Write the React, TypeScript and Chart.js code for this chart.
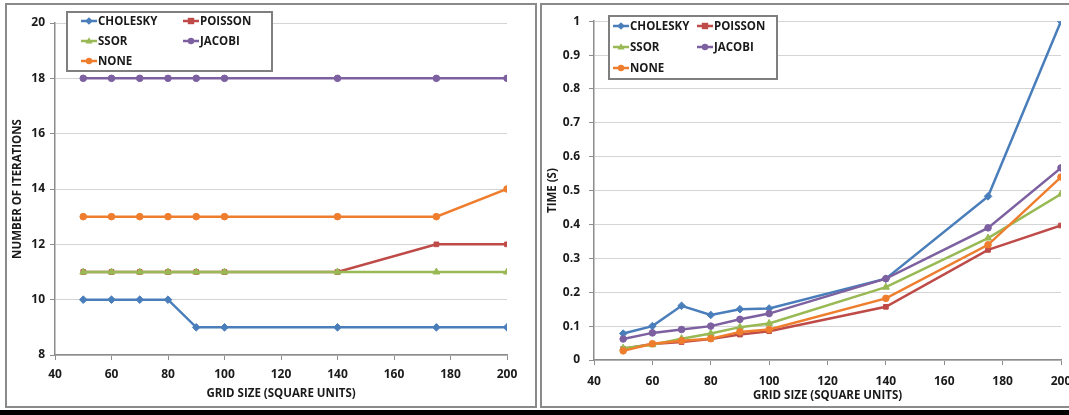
import { useEffect, useRef } from "react";
import { Chart, registerables } from "chart.js";
Chart.register(...registerables);

const gridSizes = [50, 60, 70, 80, 90, 100, 140, 175, 200];
const seriesNames = ["CHOLESKY", "POISSON", "SSOR", "JACOBI", "NONE"];
const seriesColors = ["#4A7EBB", "#BE4B48", "#98B954", "#7D60A0", "#EE7E2E"];
const seriesMarkers = ["rectRot", "rect", "triangle", "circle", "circle"];

const iterCholesky = [10, 10, 10, 10, 9, 9, 9, 9, 9];
const iterPoisson = [11, 11, 11, 11, 11, 11, 11, 12, 12];
const iterSsor = [11, 11, 11, 11, 11, 11, 11, 11, 11];
const iterJacobi = [18, 18, 18, 18, 18, 18, 18, 18, 18];
const iterNone = [13, 13, 13, 13, 13, 13, 13, 13, 14];

const timeCholesky = [0.078, 0.1, 0.16, 0.133, 0.15, 0.152, 0.24, 0.483, 1.0];
const timePoisson = [0.033, 0.047, 0.053, 0.062, 0.075, 0.085, 0.157, 0.325, 0.397];
const timeSsor = [0.035, 0.045, 0.063, 0.078, 0.097, 0.108, 0.215, 0.36, 0.49];
const timeJacobi = [0.062, 0.08, 0.09, 0.1, 0.12, 0.137, 0.24, 0.39, 0.567];
const timeNone = [0.027, 0.048, 0.057, 0.063, 0.083, 0.09, 0.182, 0.34, 0.54];

const FONT = "'Open Sans', Lato, sans-serif";
const TEXT = "#1a1a1a";

function drawMarker(ctx: CanvasRenderingContext2D, style: string, x: number, y: number, r: number) {
  ctx.beginPath();
  if (style === "circle") {
    ctx.arc(x, y, r, 0, Math.PI * 2);
  } else if (style === "rect") {
    ctx.rect(x - r, y - r, r * 2, r * 2);
  } else if (style === "rectRot") {
    ctx.moveTo(x, y - r * 1.2);
    ctx.lineTo(x + r * 1.2, y);
    ctx.lineTo(x, y + r * 1.2);
    ctx.lineTo(x - r * 1.2, y);
    ctx.closePath();
  } else if (style === "triangle") {
    ctx.moveTo(x, y - r * 1.2);
    ctx.lineTo(x + r * 1.1, y + r * 0.8);
    ctx.lineTo(x - r * 1.1, y + r * 0.8);
    ctx.closePath();
  }
  ctx.fill();
}

const boxLegend = {
  id: "boxLegend",
  afterDraw(chart: any, _args: any, opts: any) {
    const ctx: CanvasRenderingContext2D = chart.ctx;
    ctx.save();
    ctx.fillStyle = "#ffffff";
    ctx.fillRect(opts.x, opts.y, opts.w, opts.h);
    ctx.strokeStyle = "#7f7f7f";
    ctx.lineWidth = 2;
    ctx.strokeRect(opts.x, opts.y, opts.w, opts.h);
    ctx.font = `bold 11.5px ${FONT}`;
    ctx.textBaseline = "middle";
    seriesNames.forEach((name, i) => {
      const col = i % 2;
      const row = Math.floor(i / 2);
      const sx = opts.colX[col];
      const sy = opts.rowY[row];
      ctx.strokeStyle = seriesColors[i];
      ctx.fillStyle = seriesColors[i];
      ctx.lineWidth = 2.5;
      ctx.beginPath();
      ctx.moveTo(sx, sy);
      ctx.lineTo(sx + 16, sy);
      ctx.stroke();
      drawMarker(ctx, seriesMarkers[i], sx + 8, sy, 3.2);
      ctx.fillStyle = TEXT;
      ctx.fillText(name, sx + 17, sy + 0.5);
    });
    ctx.restore();
  },
};

interface PanelProps {
  series: number[][];
  yMin: number;
  yMax: number;
  yStep: number;
  yTitle: string;
  width: number;
  height: number;
  yAxisWidth: number;
  xAxisHeight: number;
  padTop: number;
  padRight: number;
  legend: any;
  yFormat: (v: number) => string;
  yTickPad: number;
  xTickPad: number;
  xTitleBottom: number;
}

function Panel(p: PanelProps) {
  const ref = useRef<HTMLCanvasElement>(null);
  useEffect(() => {
    if (!ref.current) return;
    const datasets = seriesNames.map((name, i) => ({
      label: name,
      data: gridSizes.map((g, j) => ({ x: g, y: p.series[i][j] })),
      borderColor: seriesColors[i],
      backgroundColor: seriesColors[i],
      borderWidth: 2.5,
      pointStyle: seriesMarkers[i] as any,
      pointRadius: seriesMarkers[i] === "triangle" ? 4 : seriesMarkers[i] === "rectRot" ? 3.8 : 3.3,
      pointBorderWidth: 1,
      tension: 0,
      order: seriesNames.length - i,
    }));
    const chart = new Chart(ref.current, {
      type: "line",
      data: { datasets },
      plugins: [boxLegend],
      options: {
        animation: false,
        responsive: false,
        maintainAspectRatio: false,
        layout: { padding: { top: p.padTop, right: p.padRight, left: 0, bottom: 0 } },
        plugins: {
          legend: { display: false },
          tooltip: { enabled: false },
          boxLegend: p.legend,
        } as any,
        scales: {
          x: {
            type: "linear",
            min: 40,
            max: 200,
            afterFit: (s: any) => {
              s.height = p.xAxisHeight;
            },
            ticks: {
              stepSize: 20,
              color: TEXT,
              font: { family: FONT, size: 12, weight: "bold" },
              padding: p.xTickPad,
              maxRotation: 0,
            },
            grid: { drawOnChartArea: false, tickLength: 5, color: "#8c8c8c", tickColor: "#8c8c8c" },
            border: { color: "#8c8c8c", width: 1.5 },
            title: {
              display: true,
              text: "GRID SIZE (SQUARE UNITS)",
              color: TEXT,
              font: { family: FONT, size: 11.5, weight: "bold" },
              padding: { top: 4, bottom: p.xTitleBottom },
            },
          },
          y: {
            type: "linear",
            min: p.yMin,
            max: p.yMax,
            afterFit: (s: any) => {
              s.width = p.yAxisWidth;
            },
            ticks: {
              stepSize: p.yStep,
              color: TEXT,
              font: { family: FONT, size: 12, weight: "bold" },
              padding: p.yTickPad,
              callback: (v: any) => p.yFormat(Number(v)),
            },
            grid: { color: "#d4d4d4", lineWidth: 1, tickLength: 5, tickColor: "#8c8c8c" },
            border: { color: "#8c8c8c", width: 1.5 },
            title: {
              display: true,
              text: p.yTitle,
              color: TEXT,
              font: { family: FONT, size: 11.5, weight: "bold" },
              padding: { top: 4, bottom: 0 },
            },
          },
        },
      },
    });
    return () => chart.destroy();
  }, []);
  return <canvas ref={ref} width={p.width} height={p.height} style={{ width: p.width, height: p.height, display: "block" }} />;
}

export default function App() {
  useEffect(() => {
    document.body.style.margin = "0";
  }, []);
  const border = "2px solid #8a8a8a";
  return (
    <div style={{ position: "fixed", left: 0, top: 0, width: 1069, height: 415, overflow: "hidden", background: "#fff" }}>
      <div style={{ position: "absolute", left: 5, top: 3, width: 528, height: 401, border, overflow: "hidden" }}>
        <Panel
          series={[iterCholesky, iterPoisson, iterSsor, iterJacobi, iterNone]}
          yMin={8}
          yMax={20}
          yStep={2}
          yTitle="NUMBER OF ITERATIONS"
          width={528}
          height={401}
          yAxisWidth={48}
          xAxisHeight={51}
          padTop={18}
          padRight={28}
          yTickPad={5}
          xTickPad={7}
          xTitleBottom={5}
          yFormat={(v) => String(v)}
          legend={{ x: 60, y: 7, w: 205, h: 59, colX: [74, 176], rowY: [16, 36, 56] }}
        />
      </div>
      <div style={{ position: "absolute", left: 540, top: 3, width: 545, height: 401, borderLeft: border, borderTop: border, borderBottom: border, overflow: "hidden" }}>
        <Panel
          series={[timeCholesky, timePoisson, timeSsor, timeJacobi, timeNone]}
          yMin={0}
          yMax={1}
          yStep={0.1}
          yTitle="TIME (S)"
          width={545}
          height={401}
          yAxisWidth={52}
          xAxisHeight={46}
          padTop={11}
          padRight={26}
          yTickPad={9}
          xTickPad={9}
          xTitleBottom={3}
          yFormat={(v) => String(Math.round(v * 10) / 10)}
          legend={{ x: 67, y: 11, w: 168, h: 63, colX: [71, 155], rowY: [21, 42, 63] }}
        />
      </div>
      <div style={{ position: "absolute", left: 0, top: 410, width: 1069, height: 5, background: "#000" }} />
    </div>
  );
}
